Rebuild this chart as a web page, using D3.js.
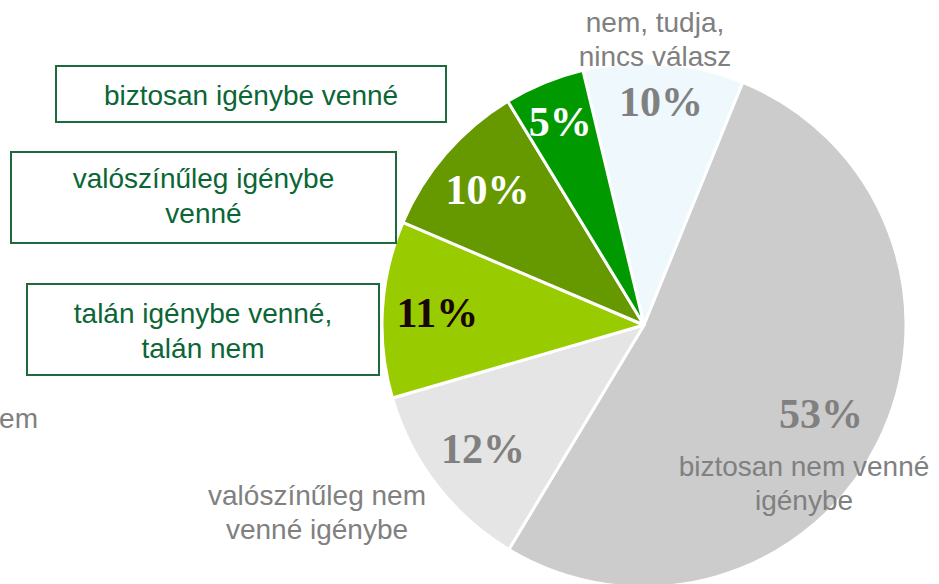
<!DOCTYPE html>
<html>

<head>
  <meta charset="utf8">
  <script src="https://d3js.org/d3.v7.min.js"></script>
  <style>
    body {
      margin: 0;
      background: #fff;
    }

    .pct {
      font-family: "Liberation Serif", "Times New Roman", serif;
      font-weight: bold;
      font-size: 42px;
      text-anchor: middle;
    }

    .cat {
      font-family: "Liberation Sans", Arial, sans-serif;
      font-size: 28px;
      text-anchor: middle;
      fill: #808080;
    }

    .box rect {
      fill: #fff;
      stroke: #1d6b3c;
      stroke-width: 2;
    }

    .box text {
      font-family: "Liberation Sans", Arial, sans-serif;
      font-size: 28px;
      text-anchor: middle;
      fill: #0b6636;
    }
  </style>
</head>

<body>
  <svg id="chart" width="939" height="584"></svg>
  <script>
    // data
    var categories = [
      "nem, tudja, nincs válasz",
      "biztosan nem venné igénybe",
      "valószínűleg nem venné igénybe",
      "talán igénybe venné, talán nem",
      "valószínűleg igénybe venné",
      "biztosan igénybe venné"
    ];
    var values = [10, 53, 12, 11, 10, 5];
    var labels = ["10%", "53%", "12%", "11%", "10%", "5%"];

    // styling per slice
    var colors = ["#eef8fd", "#cccccc", "#e5e5e5", "#99cc00", "#669900", "#009900"];
    var labelColors = ["#808080", "#808080", "#808080", "#1a0606", "#ffffff", "#ffffff"];
    var labelRadius = [224, 198, 203, 207, 207, 220];

    var chart = d3.select('#chart');
    var cx = 644, cy = 325, radius = 262;

    var pie = d3.pie()
      .sort(null)
      .startAngle(-13.5 * Math.PI / 180)
      .endAngle((360 - 13.5) * Math.PI / 180);

    var arc = d3.arc()
      .innerRadius(0)
      .outerRadius(radius);

    var slices = pie(values);

    var g = chart.append('g')
      .attr('transform', 'translate(' + cx + ',' + cy + ')');

    g.selectAll('path')
      .data(slices)
      .enter()
      .append('path')
      .attr('d', arc)
      .attr('fill', (d, i) => colors[i])
      .attr('stroke', '#fff')
      .attr('stroke-width', 3)
      .attr('stroke-linejoin', 'round');

    g.selectAll('.pct')
      .data(slices)
      .enter()
      .append('text')
      .attr('class', 'pct')
      .attr('transform', (d, i) => {
        var la = d3.arc().innerRadius(labelRadius[i]).outerRadius(labelRadius[i]);
        return 'translate(' + la.centroid(d) + ')';
      })
      .attr('dy', '0.34em')
      .attr('fill', (d, i) => labelColors[i])
      .text((d, i) => labels[i]);

    // gray category labels
    var grayLabels = [
      { lines: ["nem, tudja,", "nincs válasz"], x: 655, y: 32 },
      { lines: ["biztosan nem venné", "igénybe"], x: 804, y: 476 },
      { lines: ["valószínűleg nem", "venné igénybe"], x: 317, y: 505 }
    ];

    grayLabels.forEach((l) => {
      var t = chart.append('text')
        .attr('class', 'cat')
        .attr('x', l.x)
        .attr('y', l.y);
      l.lines.forEach((s, j) => {
        t.append('tspan')
          .attr('x', l.x)
          .attr('dy', j ? 34 : 0)
          .text(s);
      });
    });

    // cut-off leftover label on the left edge
    chart.append('text')
      .attr('class', 'cat')
      .attr('x', 38)
      .attr('y', 428)
      .style('text-anchor', 'end')
      .text('nem');

    // boxed labels for the green slices
    var boxes = [
      { lines: ["biztosan igénybe venné"], x: 56, y: 66, w: 390, h: 56, ty: 105 },
      { lines: ["valószínűleg igénybe", "venné"], x: 11, y: 152, w: 385, h: 91, ty: 188 },
      { lines: ["talán igénybe venné,", "talán nem"], x: 27, y: 284, w: 352, h: 91, ty: 323 }
    ];

    var box = chart.selectAll('.box')
      .data(boxes)
      .enter()
      .append('g')
      .attr('class', 'box');

    box.append('rect')
      .attr('x', (d) => d.x)
      .attr('y', (d) => d.y)
      .attr('width', (d) => d.w)
      .attr('height', (d) => d.h);

    box.each(function (d) {
      var t = d3.select(this).append('text')
        .attr('y', d.ty);
      d.lines.forEach((s, j) => {
        t.append('tspan')
          .attr('x', d.x + d.w / 2)
          .attr('dy', j ? 35 : 0)
          .text(s);
      });
    });
  </script>
</body>

</html>
